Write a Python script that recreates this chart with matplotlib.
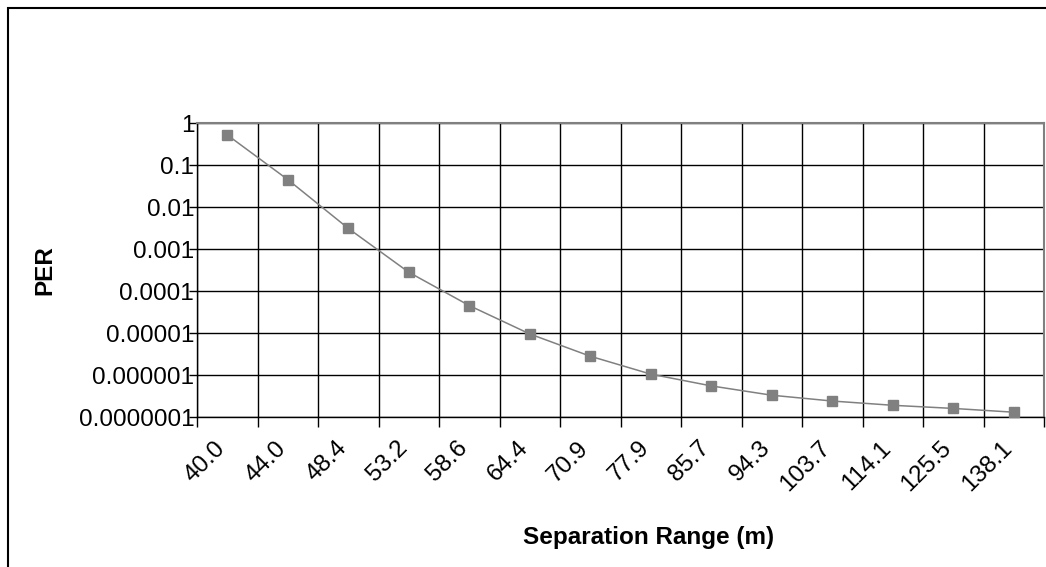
import matplotlib.pyplot as plt
import matplotlib.ticker as mticker
from matplotlib.patches import Rectangle
from matplotlib.transforms import ScaledTranslation

plt.rcParams["font.family"] = ["Liberation Sans", "DejaVu Sans"]

# data
ranges = ["40.0", "44.0", "48.4", "53.2", "58.6", "64.4", "70.9",
          "77.9", "85.7", "94.3", "103.7", "114.1", "125.5", "138.1"]
per = [0.52, 0.045, 0.0031, 0.00028, 4.5e-5, 9.5e-6, 2.8e-6,
       1.05e-6, 5.5e-7, 3.3e-7, 2.4e-7, 1.9e-7, 1.6e-7, 1.3e-7]
y_ticks = [1, 0.1, 0.01, 0.001, 0.0001, 0.00001, 0.000001, 0.0000001]
y_labels = ["1", "0.1", "0.01", "0.001", "0.0001", "0.00001",
            "0.000001", "0.0000001"]

fs = 17.5

fig = plt.figure(figsize=(10.46, 5.67), dpi=100)
ax = fig.add_axes([197 / 1046, 150 / 567, 847 / 1046, 294 / 567])

x = range(len(ranges))
ax.plot(x, per, color="#808080", lw=1.1, marker="s", ms=6.5,
        mfc="#808080", mec="#808080", zorder=3, clip_on=False)

ax.set_yscale("log")
ax.set_ylim(1e-7, 1)
ax.set_xlim(-0.5, len(ranges) - 0.5)

ax.yaxis.set_major_locator(mticker.FixedLocator(y_ticks))
ax.yaxis.set_major_formatter(mticker.FixedFormatter(y_labels))
ax.yaxis.set_minor_locator(mticker.NullLocator())
ax.tick_params(axis="y", which="major", length=6, width=1, color="black",
               labelsize=fs, pad=-4)
ax.grid(axis="y", which="major", color="black", lw=1)

ax.set_xticks(list(x))
ax.set_xticklabels(ranges, rotation=45, ha="right", va="center",
                   rotation_mode="anchor", fontsize=fs)
ax.set_xticks([i - 0.5 for i in range(len(ranges) + 1)], minor=True)
ax.tick_params(axis="x", which="major", length=0, pad=20)
ax.tick_params(axis="x", which="minor", length=7, width=1, color="black")
ax.grid(axis="x", which="minor", color="black", lw=1)
shift = ScaledTranslation(-5 / 100, 0, fig.dpi_scale_trans)
for lbl in ax.get_xticklabels():
    lbl.set_transform(lbl.get_transform() + shift)

for side in ("top", "right"):
    ax.spines[side].set_color("#808080")
    ax.spines[side].set_linewidth(1.5)
for side in ("left", "bottom"):
    ax.spines[side].set_color("black")
    ax.spines[side].set_linewidth(1)
ax.set_axisbelow(True)

ax.set_ylabel("PER", fontsize=fs, fontweight="bold")
ax.yaxis.set_label_coords((56 - 197) / 847, 0.5)
ax.set_xlabel("Separation Range (m)", fontsize=fs, fontweight="bold")
ax.xaxis.set_label_coords(452 / 847, -(526 - 417) / 294)

# outer chart border (cut off at right and bottom in the original)
fig.patches.append(Rectangle((8 / 1046, -0.1), 1.2, 559 / 567 + 0.1,
                             transform=fig.transFigure, fill=False,
                             edgecolor="black", lw=1.5))

fig.savefig("out.png", dpi=100)
